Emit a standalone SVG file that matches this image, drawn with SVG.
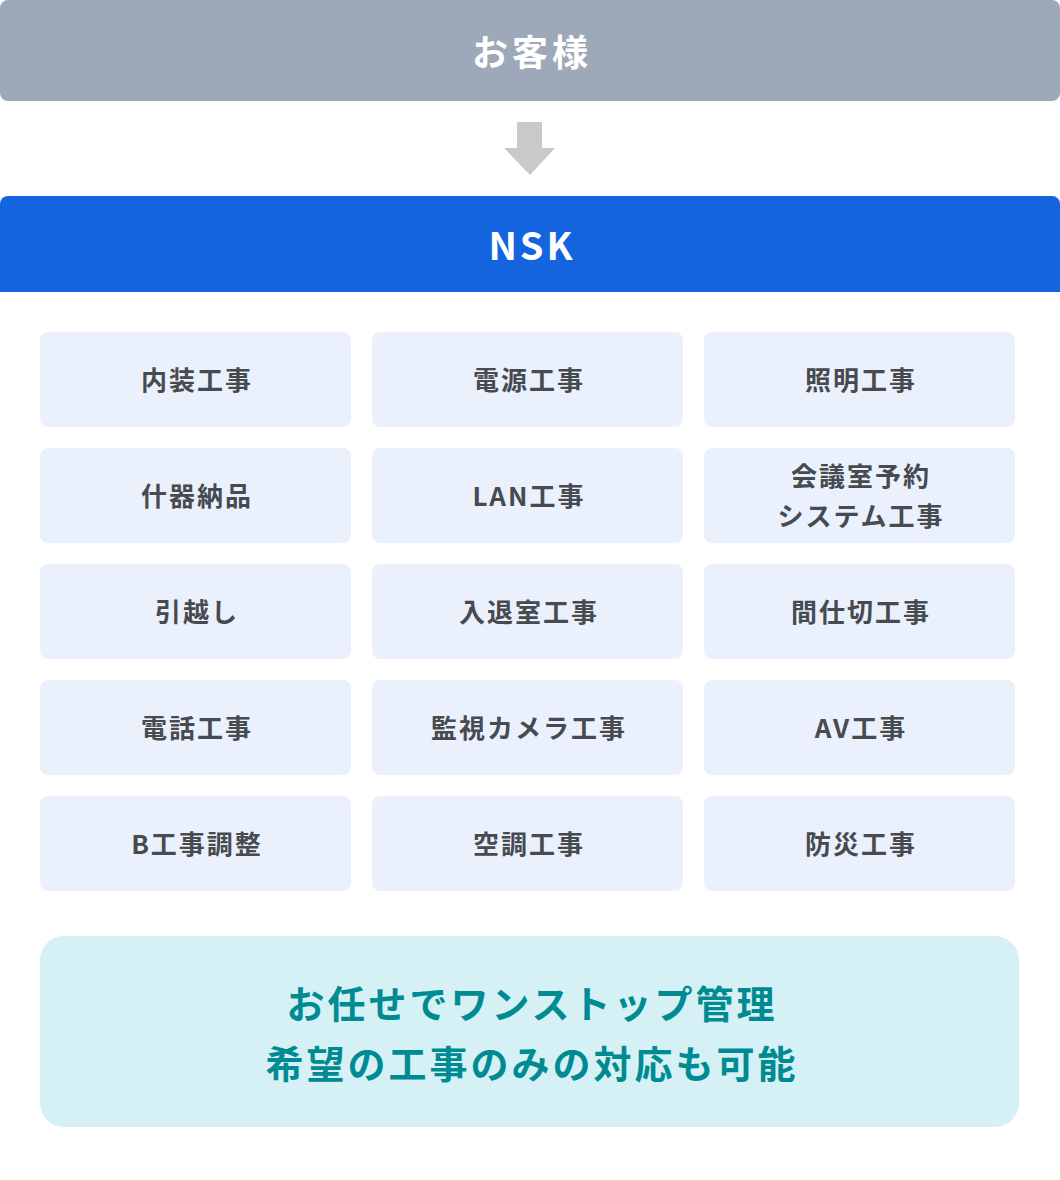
<svg xmlns="http://www.w3.org/2000/svg" width="1060" height="1180" viewBox="0 0 1060 1180">
<style>
.t{font-family:"Noto Sans CJK JP","Noto Sans",sans-serif;font-weight:700;text-anchor:middle;dominant-baseline:central}
.cell{fill:#eaf1fd}
.ct{fill:#474a4f;font-size:26px;letter-spacing:2px}
</style>
<rect x="0" y="0" width="1060" height="1180" fill="#ffffff"/>
<g id="customer">
<rect x="0" y="0" width="1060" height="101" rx="8" fill="#9da9b8"/>
<text class="t" x="532" y="50" font-size="36" fill="#ffffff" letter-spacing="4">お客様</text>
</g>
<g id="connectors">
<polygon points="517,122 542,122 542,148 555,148 530,175 504,148 517,148" fill="#c9c9c9"/>
</g>
<g id="nsk">
<path d="M8,196 H1052 A8,8 0 0 1 1060,204 V292 H0 V204 A8,8 0 0 1 8,196 Z" fill="#1464e0"/>
<text class="t" x="532" y="243" font-size="38" fill="#ffffff" letter-spacing="3">NSK</text>
</g>
<g id="cells">
<g id="c1"><rect class="cell" x="40" y="332" width="311" height="95" rx="8"/><text class="t ct" x="197" y="378">内装工事</text></g>
<g id="c2"><rect class="cell" x="372" y="332" width="311" height="95" rx="8"/><text class="t ct" x="529" y="378">電源工事</text></g>
<g id="c3"><rect class="cell" x="704" y="332" width="311" height="95" rx="8"/><text class="t ct" x="861" y="378">照明工事</text></g>
<g id="c4"><rect class="cell" x="40" y="448" width="311" height="95" rx="8"/><text class="t ct" x="197" y="494">什器納品</text></g>
<g id="c5"><rect class="cell" x="372" y="448" width="311" height="95" rx="8"/><text class="t ct" x="529" y="494">LAN工事</text></g>
<g id="c6"><rect class="cell" x="704" y="448" width="311" height="95" rx="8"/><text class="t ct" x="861" y="474">会議室予約</text><text class="t ct" x="861" y="514">システム工事</text></g>
<g id="c7"><rect class="cell" x="40" y="564" width="311" height="95" rx="8"/><text class="t ct" x="197" y="610">引越し</text></g>
<g id="c8"><rect class="cell" x="372" y="564" width="311" height="95" rx="8"/><text class="t ct" x="529" y="610">入退室工事</text></g>
<g id="c9"><rect class="cell" x="704" y="564" width="311" height="95" rx="8"/><text class="t ct" x="861" y="610">間仕切工事</text></g>
<g id="c10"><rect class="cell" x="40" y="680" width="311" height="95" rx="8"/><text class="t ct" x="197" y="726">電話工事</text></g>
<g id="c11"><rect class="cell" x="372" y="680" width="311" height="95" rx="8"/><text class="t ct" x="529" y="726">監視カメラ工事</text></g>
<g id="c12"><rect class="cell" x="704" y="680" width="311" height="95" rx="8"/><text class="t ct" x="861" y="726">AV工事</text></g>
<g id="c13"><rect class="cell" x="40" y="796" width="311" height="95" rx="8"/><text class="t ct" x="197" y="842">B工事調整</text></g>
<g id="c14"><rect class="cell" x="372" y="796" width="311" height="95" rx="8"/><text class="t ct" x="529" y="842">空調工事</text></g>
<g id="c15"><rect class="cell" x="704" y="796" width="311" height="95" rx="8"/><text class="t ct" x="861" y="842">防災工事</text></g>
</g>
<g id="summary">
<rect x="40" y="936" width="979" height="191" rx="24" fill="#d5f1f5"/>
<text class="t" x="532" y="1001" font-size="38" fill="#008b92" letter-spacing="3">お任せでワンストップ管理</text>
<text class="t" x="532" y="1061" font-size="38" fill="#008b92" letter-spacing="3">希望の工事のみの対応も可能</text>
</g>
</svg>
